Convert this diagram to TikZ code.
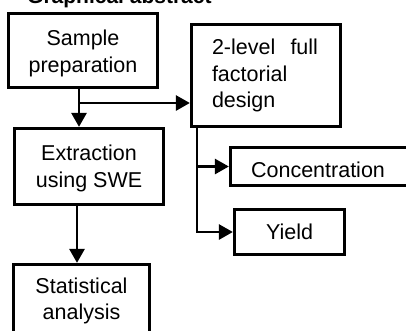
\documentclass[tikz,border=0pt]{standalone}
\usepackage{fontspec}
\setmainfont{Liberation Sans}
\usetikzlibrary{arrows.meta}

\begin{document}
\begin{tikzpicture}[x=1pt, y=-1pt,
  box/.style={draw, line width=2.8pt, inner sep=0pt},
  txt/.style={inner sep=0pt, align=center, font=\fontsize{21.5}{26.5}\selectfont},
  flow/.style={line width=2.8pt, -{Triangle[length=14pt,width=15pt]}}]
\useasboundingbox (0,0) rectangle (406,330);
\clip (0,0) rectangle (406,330);

% heading, cut by the top edge
\node[anchor=base west, inner sep=0pt, font=\bfseries\fontsize{21}{26}\selectfont]
  (title) at (27,3) {Graphical abstract};

% boxes
\node[box, minimum width=149.5pt, minimum height=74.5pt]  (prep)   at (83,50.5)  {};
\node[box, minimum width=149.5pt, minimum height=102.5pt] (design) at (266,75.5) {};
\node[box, minimum width=149.5pt, minimum height=76.5pt]  (ext)    at (89,166.5) {};
\node[box, minimum width=136.5pt, minimum height=74.5pt]  (stat)   at (81.5,301.5) {};
\node[box, minimum width=179.5pt, minimum height=38.5pt]  (conc)   at (320,166.5) {};
\node[box, minimum width=110.5pt, minimum height=45.5pt]  (yield)  at (289.5,232) {};

% box texts
\node[txt] (prep-t) at (83,53.3) {Sample\\preparation};
\node[txt, text width=106pt, align=left] (design-t) at (265,75.6)
  {\hbox to 106pt{2-level\hfill full}\\factorial\\design};
\node[txt] (ext-t) at (89,168.5) {Extraction\\using SWE};
\node[txt] (stat-t) at (81.5,301) {Statistical\\analysis};
\node[txt, anchor=base] (conc-t) at (318,177) {Concentration};
\node[txt, anchor=base] (yield-t) at (289.5,239) {Yield};

% junctions
\coordinate (j1) at (79,103);
\coordinate (j2) at (197,166.5);
\coordinate (j3) at (77,230);

% connectors
\draw[flow] (prep.south -| j1) -- (ext.north -| j1);
\draw[flow] (j1) -- (j1 -| design.west);
\draw[flow] (ext.south -| j3) -- (stat.north -| j3);
\draw[flow] (design.south -| j2) |- (yield.west);
\draw[flow] (j2) -- (conc.west);
\end{tikzpicture}
\end{document}
